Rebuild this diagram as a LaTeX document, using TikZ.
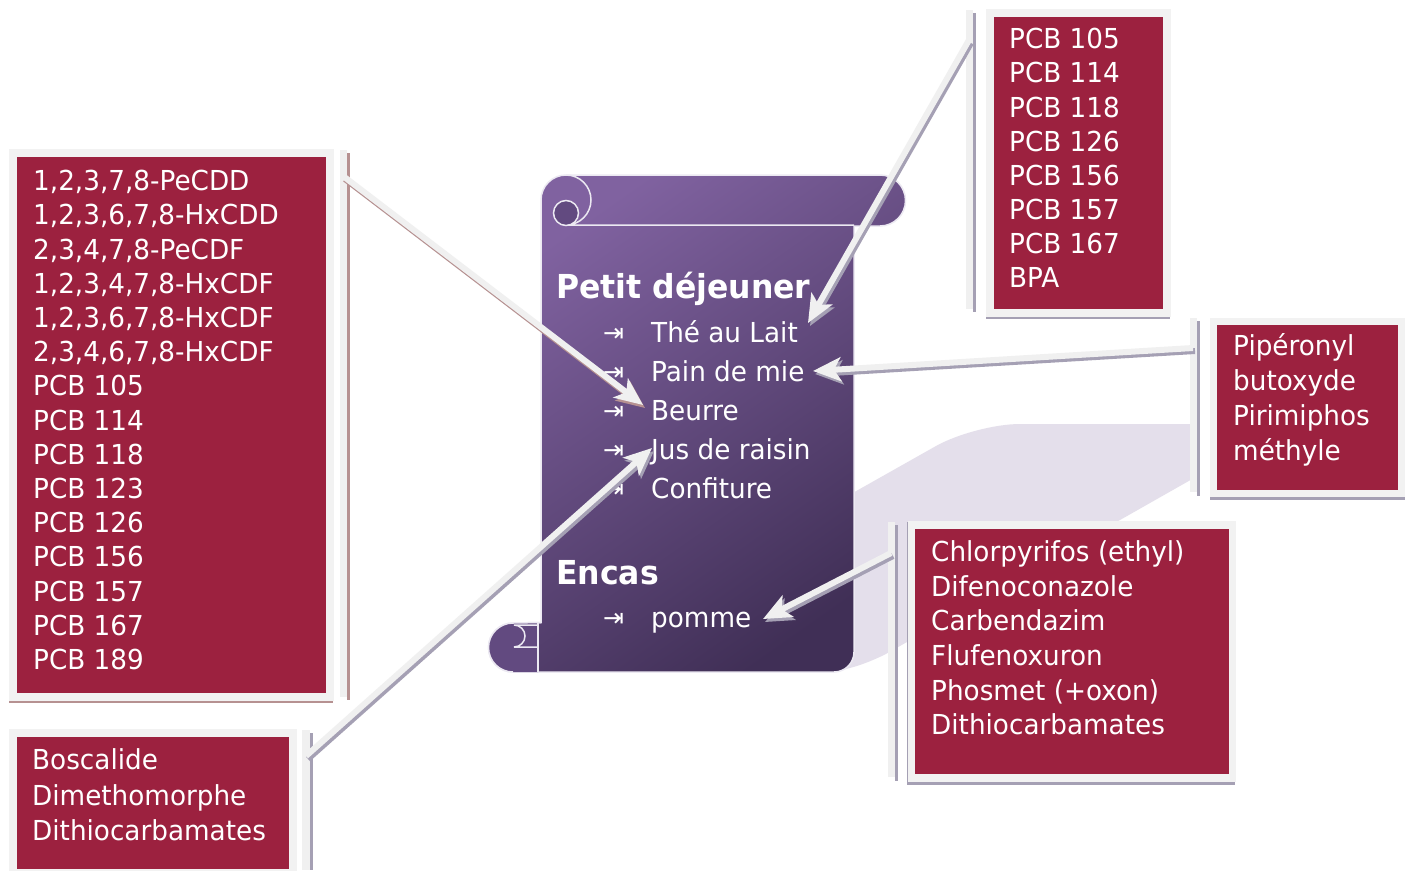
\documentclass[tikz,border=0pt]{standalone}
\usepackage{fontspec}
\setmainfont{DejaVu Sans}[FakeStretch=0.955]
\newfontfamily\symfont{DejaVu Sans}
\usetikzlibrary{arrows.meta}
\definecolor{crim}{RGB}{156,33,63}
\definecolor{framec}{RGB}{242,242,242}
\definecolor{shadgray}{RGB}{165,160,180}
\definecolor{shadbrown}{RGB}{182,145,145}
\definecolor{lav}{RGB}{228,223,235}
\definecolor{scrA}{RGB}{128,98,160}
\definecolor{scrB}{RGB}{64,47,86}
\definecolor{scrEdge}{RGB}{236,233,242}
\definecolor{curlfill}{RGB}{98,74,128}
\definecolor{linec}{RGB}{240,240,240}
\tikzset{
  redbox/.style={draw=framec, line width=7.5pt, fill=crim, inner sep=0pt, anchor=north west},
  boxtxt/.style={text=white, align=left, inner sep=0pt, anchor=west},
  bar/.style={fill=linec},
  conn/.style={draw=linec, line width=6pt, -{Stealth[length=28pt,width=24pt,inset=7pt]}},
  connsh/.style={draw=#1, line width=6pt, -{Stealth[length=28pt,width=24pt,inset=7pt]}, fill=#1},
  scredge/.style={draw=scrEdge, line width=1.5pt},
  item/.style={text=white, inner sep=0pt, anchor=base west, font=\fontsize{27.5}{30}\selectfont},
  head/.style={text=white, inner sep=0pt, anchor=base west, font=\bfseries\fontsize{33}{36}\selectfont},
  bul/.style={text=white, inner sep=0pt, anchor=base west, font=\symfont\fontsize{25}{25}\selectfont},
}
\begin{document}
\begin{tikzpicture}[x=1pt,y=-1pt]
\useasboundingbox (0,0) rectangle (1410,870);
\fill[white] (0,0) rectangle (1410,870);

% lavender band behind
\fill[lav] (835,503) [rounded corners=45pt] -- (975,424) [sharp corners] -- (1194,424) -- (1194,478) -- (1120,520) [rounded corners=20pt] -- (872,662) [sharp corners] -- (835,672) -- cycle;

% scroll body
\shade[top color=scrA, bottom color=scrB, shading angle=35]
  (541,200) arc[start angle=180, end angle=270, radius=25] -- (880,175)
  arc[start angle=270, end angle=450, radius=25.5] -- (854,226) -- (854,652)
  arc[start angle=0, end angle=90, radius=20] -- (513,672)
  arc[start angle=90, end angle=270, radius=24.5] -- (541,622.5) -- cycle;
\draw[scredge]
  (541,200) arc[start angle=180, end angle=270, radius=25] -- (880,175)
  arc[start angle=270, end angle=450, radius=25.5] -- (854,226) -- (854,652)
  arc[start angle=0, end angle=90, radius=20] -- (513,672)
  arc[start angle=90, end angle=270, radius=24.5] -- (541,622.5) -- cycle;
% top-left curl
\draw[scredge] (566,175) arc[start angle=270, end angle=450, radius=25] -- (854,225);
\filldraw[scredge, fill=curlfill] (566,213) circle[radius=12.5];
% bottom-left curl
\fill[curlfill] (513,672) arc[start angle=90, end angle=270, radius=24.5] -- (538,623) -- (538,672) -- cycle;
\draw[scredge] (513,672) arc[start angle=90, end angle=270, radius=24.5] -- (541,622.5);
\draw[scredge] (538,623) -- (538,672);
\draw[scredge] (537,647) -- (514,647) arc[start angle=90, end angle=-90, radius=11] -- (537,625);

% scroll text
\node[head] (pd) at (556,298) {Petit déjeuner};
\node[bul] (b1) at (603,341) {⇥};
\node[item] (the) at (651,342) {Thé au Lait};
\node[bul] (b2) at (603,380) {⇥};
\node[item] (pain) at (651,381) {Pain de mie};
\node[bul] (b3) at (603,419) {⇥};
\node[item] (beurre) at (651,420) {Beurre};
\node[bul] (b4) at (603,458) {⇥};
\node[item] (jus) at (651,459) {Jus de raisin};
\node[bul] (b5) at (603,497) {⇥};
\node[item] (conf) at (651,498) {Confiture};
\node[head] (encas) at (556,584) {Encas};
\node[bul] (b6) at (603,626) {⇥};
\node[item] (pomme) at (651,627) {pomme};

% ---------- boxes with shadows ----------
\fill[shadbrown] (9,151) rectangle (333,703);
\node[redbox, minimum width=317pt, minimum height=544pt] (L) at (9,149) {};
\fill[shadgray] (986,9) rectangle (1170,319);
\node[redbox, minimum width=177pt, minimum height=300pt] (T) at (986,9) {};
\fill[shadgray] (1210,318) rectangle (1405,500);
\node[redbox, minimum width=188pt, minimum height=172pt] (P) at (1209.5,317.5) {};
\fill[shadgray] (907,522) rectangle (1235,785);
\node[redbox, minimum width=321pt, minimum height=253pt] (B) at (907.5,521) {};
\fill[shadgray] (9,730) rectangle (296,875);
\node[redbox, minimum width=280pt, minimum height=140pt] (BL) at (9,729) {};

% box texts
\node[boxtxt, font=\fontsize{27.5}{34.2}\selectfont] (Lt) at (33,420) {1,2,3,7,8-PeCDD\\1,2,3,6,7,8-HxCDD\\2,3,4,7,8-PeCDF\\1,2,3,4,7,8-HxCDF\\1,2,3,6,7,8-HxCDF\\2,3,4,6,7,8-HxCDF\\PCB 105\\PCB 114\\PCB 118\\PCB 123\\PCB 126\\PCB 156\\PCB 157\\PCB 167\\PCB 189};
\node[boxtxt, font=\fontsize{27.5}{34.1}\selectfont] (Tt) at (1009,158) {PCB 105\\PCB 114\\PCB 118\\PCB 126\\PCB 156\\PCB 157\\PCB 167\\BPA};
\node[boxtxt, font=\fontsize{27.5}{35}\selectfont] (Pt) at (1233,400) {Pipéronyl\\butoxyde\\Pirimiphos\\méthyle};
\node[boxtxt, font=\fontsize{27.5}{34.6}\selectfont] (Bt) at (931,638) {Chlorpyrifos (ethyl)\\Difenoconazole\\Carbendazim\\Flufenoxuron\\Phosmet (+oxon)\\Dithiocarbamates};
\node[boxtxt, font=\fontsize{27.5}{35.5}\selectfont] (BLt) at (32,795) {Boscalide\\Dimethomorphe\\Dithiocarbamates};

% ---------- callout bars ----------
\fill[shadbrown] (347,153) rectangle (350,700);
\fill[bar] (340,150) rectangle (347,697);
\fill[shadgray] (973,13) rectangle (976,312);
\fill[bar] (966,10) rectangle (973,309);
\fill[shadgray] (1197,321) rectangle (1200,496);
\fill[bar] (1190,318) rectangle (1197,492);
\fill[shadgray] (895,525) rectangle (898,781);
\fill[bar] (888,522) rectangle (895,777);
\fill[shadgray] (310,733) rectangle (313,870);
\fill[bar] (302,730) rectangle (310,870);

% connector ends
\coordinate (sL) at (343,176);
\coordinate (tL) at (643,405);
\coordinate (sT) at (969,40);
\coordinate (tT) at (808,323);
\coordinate (sP) at (1193,348);
\coordinate (tP) at (813,371);
\coordinate (sB) at (891,553);
\coordinate (tB) at (763,619);
\coordinate (sBL) at (306,756);
\coordinate (tBL) at (652,448);

% connectors: shadows then lines
\begin{scope}[transform canvas={shift={(2,3)}}]
  \draw[connsh=shadbrown] (sL) -- (tL);
  \draw[connsh=shadgray] (sT) -- (tT);
  \draw[connsh=shadgray] (sP) -- (tP);
  \draw[connsh=shadgray] (sB) -- (tB);
  \draw[connsh=shadgray] (sBL) -- (tBL);
\end{scope}
\draw[conn, fill=linec] (sL) -- (tL);
\draw[conn, fill=linec] (sT) -- (tT);
\draw[conn, fill=linec] (sP) -- (tP);
\draw[conn, fill=linec] (sB) -- (tB);
\draw[conn, fill=linec] (sBL) -- (tBL);
\end{tikzpicture}
\end{document}
